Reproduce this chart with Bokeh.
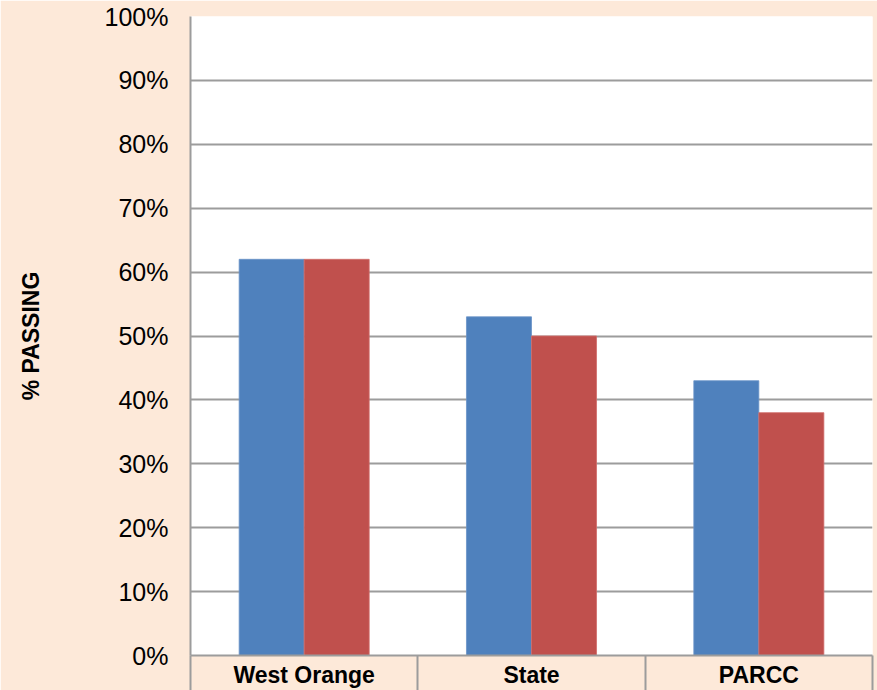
from bokeh.plotting import figure
from bokeh.models import ColumnDataSource, FixedTicker, Range1d
from bokeh.transform import dodge
from bokeh.embed import file_html
from bokeh.resources import INLINE

# ---- data ----
categories = ["West Orange", "State", "PARCC"]
series_blue = [62, 53, 43]
series_red = [62, 50, 38]
y_ticks = [0, 10, 20, 30, 40, 50, 60, 70, 80, 90, 100]
y_tick_labels = ["0%", "10%", "20%", "30%", "40%", "50%", "60%", "70%", "80%", "90%", "100%"]
y_title = "% PASSING"

centers = [i + 0.5 for i in range(len(categories))]
bounds = [i for i in range(len(categories) + 1)]

src = ColumnDataSource(dict(x=centers, blue=series_blue, red=series_red, cat=categories))

PEACH = "#FDE9D9"
GRID = "#9C9C9C"
FONT = "Liberation Sans"

p = figure(width=877, height=690,
           x_range=Range1d(0, len(categories)), y_range=Range1d(0, 100),
           output_backend="svg", toolbar_location=None,
           min_border_left=190, min_border_right=5, min_border_top=16, min_border_bottom=34,
           background_fill_color="white", border_fill_color=PEACH)
p.outline_line_color = None

bar_w = 0.286
p.vbar(x=dodge("x", -bar_w / 2), top="blue", width=bar_w, source=src,
       fill_color="#4F81BD", line_color="#6A93C8", line_width=0.8)
p.vbar(x=dodge("x", bar_w / 2), top="red", width=bar_w, source=src,
       fill_color="#C0504D", line_color="#D06C69", line_width=0.8)

# grid
p.xgrid.grid_line_color = None
p.ygrid.grid_line_color = GRID
p.ygrid.grid_line_width = 2

# x axis (categories with separators)
xa = p.xaxis[0]
xa.ticker = FixedTicker(ticks=centers, minor_ticks=bounds)
xa.major_label_overrides = {c: lab for c, lab in zip(centers, categories)}
xa.major_tick_line_color = None
xa.major_tick_out = 0
xa.major_tick_in = 0
xa.minor_tick_line_color = GRID
xa.minor_tick_line_width = 2
xa.minor_tick_out = 36
xa.minor_tick_in = 0
xa.axis_line_color = GRID
xa.axis_line_width = 2
xa.major_label_text_font = FONT
xa.major_label_text_font_size = "23px"
xa.major_label_text_font_style = "bold"
xa.major_label_text_color = "black"
xa.major_label_standoff = -30

# y axis
ya = p.yaxis[0]
ya.ticker = FixedTicker(ticks=y_ticks, minor_ticks=[])
ya.major_label_overrides = {t: lab for t, lab in zip(y_ticks, y_tick_labels)}
ya.major_tick_line_color = None
ya.major_tick_out = 0
ya.major_tick_in = 0
ya.axis_line_color = GRID
ya.axis_line_width = 2
ya.major_label_text_font = FONT
ya.major_label_text_font_size = "25px"
ya.major_label_text_color = "black"
ya.major_label_standoff = 22
ya.axis_label = y_title
ya.axis_label_text_font = FONT
ya.axis_label_text_font_size = "23px"
ya.axis_label_text_font_style = "bold"
ya.axis_label_text_color = "black"
ya.axis_label_standoff = 58

open("out.html", "w").write(file_html(p, INLINE))
